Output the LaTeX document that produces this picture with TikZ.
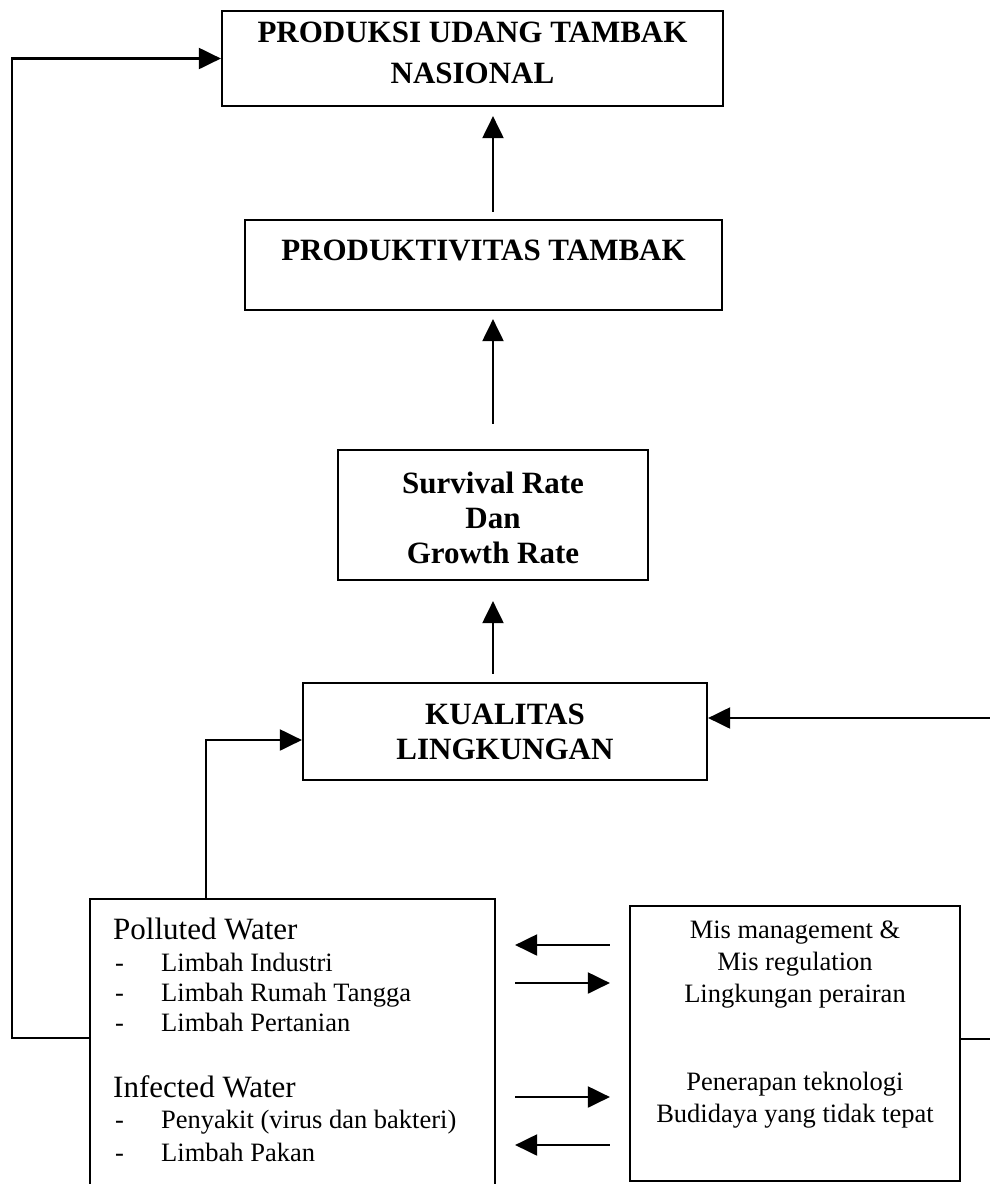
\documentclass[tikz,border=0pt]{standalone}
\usepackage{fontspec}
\setmainfont{Liberation Serif}
\usetikzlibrary{arrows.meta,calc}
\begin{document}
\begin{tikzpicture}[x=1pt,y=-1pt,
  box/.style={draw, line width=2.2pt, inner sep=0pt},
  arr/.style={line width=2.1pt, -{Triangle[length=22pt,width=21pt]}},
  bftext/.style={font=\fontsize{31}{35}\selectfont\bfseries, align=center, inner sep=0pt},
  headtext/.style={font=\fontsize{31}{35}\selectfont, anchor=base west, inner sep=0pt},
  itemtext/.style={font=\fontsize{26.5}{30}\selectfont, anchor=base west, inner sep=0pt},
  mistext/.style={font=\fontsize{26.5}{32}\selectfont, align=center, inner sep=0pt}]
\useasboundingbox (0,0) rectangle (989,1184);
\fill[white] (0,0) rectangle (989,1184);

% boxes
\node[box, minimum width=501pt, minimum height=95pt] (top) at (472.5,58.5) {};
\node[bftext, font=\fontsize{31}{41}\selectfont\bfseries] (toptxt) at (472.5,52.5) {PRODUKSI UDANG TAMBAK\\NASIONAL};

\node[box, minimum width=477pt, minimum height=90pt] (prod) at (483.5,265) {};
\node[bftext] (prodtxt) at (483.5,250) {PRODUKTIVITAS TAMBAK};

\node[box, minimum width=310pt, minimum height=130pt] (surv) at (493,515) {};
\node[bftext] (survtxt) at (493,518) {Survival Rate\\Dan\\Growth Rate};

\node[box, minimum width=404pt, minimum height=97pt] (kual) at (505,731.5) {};
\node[bftext] (kualtxt) at (505,732) {KUALITAS\\LINGKUNGAN};

\node[box, minimum width=405pt, minimum height=300pt] (pol) at (292.5,1049) {};
\node[headtext] (h1) at (113,939) {Polluted Water};
\node[itemtext] (d1) at (115,971) {-};
\node[itemtext] (i1) at (161,971) {Limbah Industri};
\node[itemtext] (d2) at (115,1001) {-};
\node[itemtext] (i2) at (161,1001) {Limbah Rumah Tangga};
\node[itemtext] (d3) at (115,1031) {-};
\node[itemtext] (i3) at (161,1031) {Limbah Pertanian};
\node[headtext] (h2) at (113,1097) {Infected Water};
\node[itemtext] (d4) at (115,1128) {-};
\node[itemtext] (i4) at (161,1128) {Penyakit (virus dan bakteri)};
\node[itemtext] (d5) at (115,1161) {-};
\node[itemtext] (i5) at (161,1161) {Limbah Pakan};

\node[box, minimum width=330pt, minimum height=275pt] (mis) at (795,1043.5) {};
\node[mistext] (m1) at (795,965) {Mis management \&\\Mis regulation\\Lingkungan perairan};
\node[mistext] (m2) at (795,1100) {Penerapan teknologi\\Budidaya yang tidak tepat};

% helper coordinates
\coordinate (ax) at (493,0);
\coordinate (lx) at (12,1038);
\coordinate (px) at (206,740);
\coordinate (rx) at (993,1039);
\coordinate (kr) at (0,718);
\coordinate (y1) at (0,945);
\coordinate (y2) at (0,983);
\coordinate (y3) at (0,1097);
\coordinate (y4) at (0,1145);

% vertical chain
\draw[arr, shorten <=7pt, shorten >=9pt] (ax |- prod.north) -- (ax |- top.south);
\draw[arr, shorten <=25pt, shorten >=8pt] (ax |- surv.north) -- (ax |- prod.south);
\draw[arr, shorten <=8pt, shorten >=20pt] (ax |- kual.north) -- (ax |- surv.south);

% feedback loops
\draw[arr] (pol.west |- lx) -- (lx) -- (lx |- top.west) -- (top.west);
\draw[arr] (px |- pol.north) -- (px) -- (kual.west |- px);
\draw[arr] (mis.east |- rx) -- (rx) -- (rx |- kr) -- (kual.east |- kr);

% arrows between bottom boxes
\draw[arr, shorten <=19pt, shorten >=19pt] (mis.west |- y1) -- (pol.east |- y1);
\draw[arr, shorten <=19pt, shorten >=19pt] (pol.east |- y2) -- (mis.west |- y2);
\draw[arr, shorten <=19pt, shorten >=19pt] (pol.east |- y3) -- (mis.west |- y3);
\draw[arr, shorten <=19pt, shorten >=19pt] (mis.west |- y4) -- (pol.east |- y4);
\end{tikzpicture}
\end{document}
